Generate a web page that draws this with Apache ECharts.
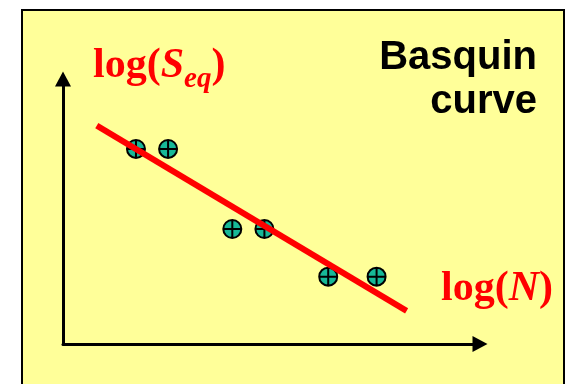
<!DOCTYPE html>
<html>
<head>
<meta charset="utf-8" />
<title>Basquin curve</title>
<script src="https://cdn.jsdelivr.net/npm/echarts@6/dist/echarts.min.js"></script>
<style>
  html, body { margin: 0; padding: 0; background: #fff; }
</style>
</head>
<body>
<div id="main" style="width: 567px;height:384px;"></div>
<script type="text/javascript">
    // measured points (log N , log S_eq), arbitrary units
    const pointN = [1.75, 2.52, 4.06, 4.83, 6.36, 7.52];
    const pointS = [7.36, 7.36, 4.34, 4.34, 2.54, 2.54];
    // fitted Basquin line end points
    const fitN = [0.81, 8.24];
    const fitS = [8.24, 1.25];

    const axisMin = 0;
    const axisMax = 10;

    // circle with a cross inside
    const crossCircle = 'path://M0,-10A10,10 0 1,1 0,10A10,10 0 1,1 0,-10Z M-10,0L10,0 M0,-10L0,10';

    let myChart = echarts.init(document.getElementById('main'));

    let axisCommon = {
        type: 'value',
        min: axisMin,
        max: axisMax,
        axisLabel: {show: false},
        axisTick: {show: false},
        splitLine: {show: false},
        axisLine: {
            show: true,
            symbol: ['none', 'triangle'],
            symbolSize: [16, 15],
            lineStyle: {color: '#000', width: 3}
        }
    };

    const red = '#ff0000';
    const serif = 'Liberation Serif';

    let option = {
        animation: false,
        backgroundColor: '#fff',
        grid: {left: 63, top: 79, right: 87, bottom: 40},
        xAxis: axisCommon,
        yAxis: axisCommon,
        graphic: [
            {
                type: 'rect',
                z: -10,
                shape: {x: 22, y: 10, width: 542, height: 400},
                style: {fill: '#FFFF99', stroke: '#000', lineWidth: 2}
            },
            {
                type: 'text',
                left: 93,
                top: 45,
                style: {
                    text: '{n|log(}{i|S}{sub|eq}{n|)}',
                    rich: {
                        n: {fontFamily: serif, fontWeight: 'bold', fontSize: 42, fill: red, lineHeight: 56},
                        i: {fontFamily: serif, fontWeight: 'bold', fontStyle: 'italic', fontSize: 42, fill: red, lineHeight: 56},
                        sub: {fontFamily: serif, fontWeight: 'bold', fontStyle: 'italic', fontSize: 29, fill: red, lineHeight: 26, verticalAlign: 'bottom'}
                    }
                }
            },
            {
                type: 'text',
                left: 441,
                top: 268,
                style: {
                    text: '{n|log(}{i|N}{n|)}',
                    rich: {
                        n: {fontFamily: serif, fontWeight: 'bold', fontSize: 42, fill: red, lineHeight: 42},
                        i: {fontFamily: serif, fontWeight: 'bold', fontStyle: 'italic', fontSize: 42, fill: red, lineHeight: 42}
                    }
                }
            },
            {
                type: 'text',
                x: 537,
                y: 36,
                style: {
                    text: 'Basquin\ncurve',
                    textAlign: 'right',
                    textVerticalAlign: 'top',
                    font: 'bold 40px "Liberation Sans"',
                    lineHeight: 44,
                    fill: '#000'
                }
            }
        ],
        series: [
            {
                type: 'line',
                data: fitN.map((n, i) => [n, fitS[i]]),
                symbol: 'none',
                lineStyle: {color: red, width: 6}
            },
            {
                type: 'scatter',
                data: pointN.map((n, i) => [n, pointS[i]]),
                symbol: crossCircle,
                symbolSize: 18,
                itemStyle: {color: '#17b897', borderColor: '#000', borderWidth: 2, opacity: 1}
            }
        ]
    };
    myChart.setOption(option);
</script>
</body>
</html>
